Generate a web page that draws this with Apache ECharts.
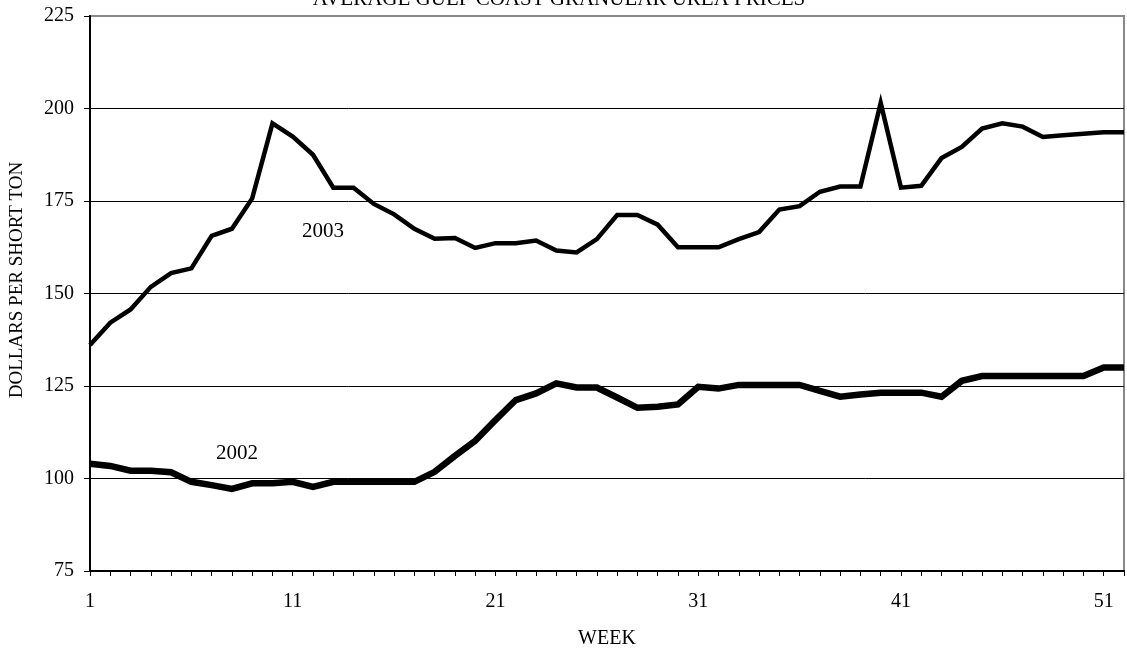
<!DOCTYPE html>
<html>
<head>
<meta charset="utf-8">
<script src="https://cdn.jsdelivr.net/npm/echarts@6/dist/echarts.min.js"></script>
<style>
html,body{margin:0;padding:0;background:#fff;}
#chart{width:1127px;height:654px;}
</style>
</head>
<body>
<div id="chart"></div>
<script>
const weeks = Array.from({length: 52}, (_, i) => String(i + 1));
const y2003 = [136.1, 142.1, 145.7, 151.8, 155.5, 156.8, 165.6, 167.5, 175.7, 196.0,
  192.4, 187.5, 178.6, 178.6, 174.2, 171.4, 167.5, 164.8, 165.0, 162.3,
  163.6, 163.6, 164.3, 161.6, 161.1, 164.7, 171.2, 171.2, 168.6, 162.5,
  162.5, 162.5, 164.7, 166.6, 172.7, 173.6, 177.5, 178.9, 178.9, 201.5,
  178.6, 179.1, 186.6, 189.6, 194.6, 196.0, 195.1, 192.3, 192.8, 193.2,
  193.6, 193.6];
const y2002 = [104.0, 103.4, 102.1, 102.1, 101.7, 99.1, 98.2, 97.2, 98.7, 98.7,
  99.1, 97.7, 99.1, 99.1, 99.1, 99.1, 99.1, 101.8, 106.1, 110.2,
  115.8, 121.2, 123.0, 125.7, 124.6, 124.6, 121.9, 119.1, 119.4, 120.0,
  124.8, 124.3, 125.3, 125.3, 125.3, 125.3, 123.7, 122.1, 122.7, 123.2,
  123.2, 123.2, 122.1, 126.4, 127.7, 127.7, 127.7, 127.7, 127.7, 127.7,
  130.0, 130.0];
const yTicks = {min: 75, max: 225, interval: 25};
const titleText = 'AVERAGE GULF COAST GRANULAR UREA PRICES';
const yName = 'DOLLARS PER SHORT TON';
const xName = 'WEEK';

const FONT = '"Liberation Serif", "Times New Roman", serif';
const chart = echarts.init(document.getElementById('chart'), null, {renderer: 'canvas'});
chart.setOption({
  animation: false,
  backgroundColor: '#fff',
  grid: {left: 90, right: 3, top: 16, bottom: 83, show: true, borderColor: '#888', borderWidth: 2, backgroundColor: 'transparent'},
  xAxis: {
    type: 'category', data: weeks, boundaryGap: false,
    name: xName, nameLocation: 'middle', nameGap: 58,
    nameTextStyle: {fontFamily: FONT, fontSize: 20, color: '#000'},
    axisLine: {lineStyle: {color: '#000', width: 2}},
    axisTick: {interval: 0, length: 5, lineStyle: {color: '#000', width: 1}},
    axisLabel: {interval: 9, margin: 21, fontFamily: FONT, fontSize: 20, color: '#000'},
    splitLine: {show: false}
  },
  yAxis: {
    type: 'value', min: yTicks.min, max: yTicks.max, interval: yTicks.interval,
    axisLine: {show: true, lineStyle: {color: '#000', width: 2}},
    axisTick: {show: true, length: 6, lineStyle: {color: '#000', width: 1}},
    axisLabel: {margin: 16, fontFamily: FONT, fontSize: 20, color: '#000'},
    splitLine: {show: true, lineStyle: {color: ['#000', '#000', '#000', '#000', '#000', '#000', '#888'], width: 1}}
  },
  series: [
    {name: '2003', type: 'line', data: y2003, symbol: 'none', lineStyle: {color: '#000', width: 4.5, join: 'miter', miterLimit: 10}},
    {name: '2002', type: 'line', data: y2002, symbol: 'none', lineStyle: {color: '#000', width: 6.5, join: 'miter', miterLimit: 10}}
  ],
  graphic: [
    {type: 'text', x: 559, y: -1, style: {text: titleText, font: '21px ' + FONT, fill: '#000', align: 'center', verticalAlign: 'middle', textAlign: 'center', textVerticalAlign: 'middle'}},
    {type: 'text', x: 17, y: 280, rotation: Math.PI / 2, style: {text: yName, font: '19px ' + FONT, fill: '#000', align: 'center', verticalAlign: 'middle', textAlign: 'center', textVerticalAlign: 'middle'}},
    {type: 'text', x: 323, y: 231, style: {text: '2003', font: '21px ' + FONT, fill: '#000', align: 'center', verticalAlign: 'middle', textAlign: 'center', textVerticalAlign: 'middle'}},
    {type: 'text', x: 237, y: 453, style: {text: '2002', font: '21px ' + FONT, fill: '#000', align: 'center', verticalAlign: 'middle', textAlign: 'center', textVerticalAlign: 'middle'}}
  ]
});
</script>
</body>
</html>
